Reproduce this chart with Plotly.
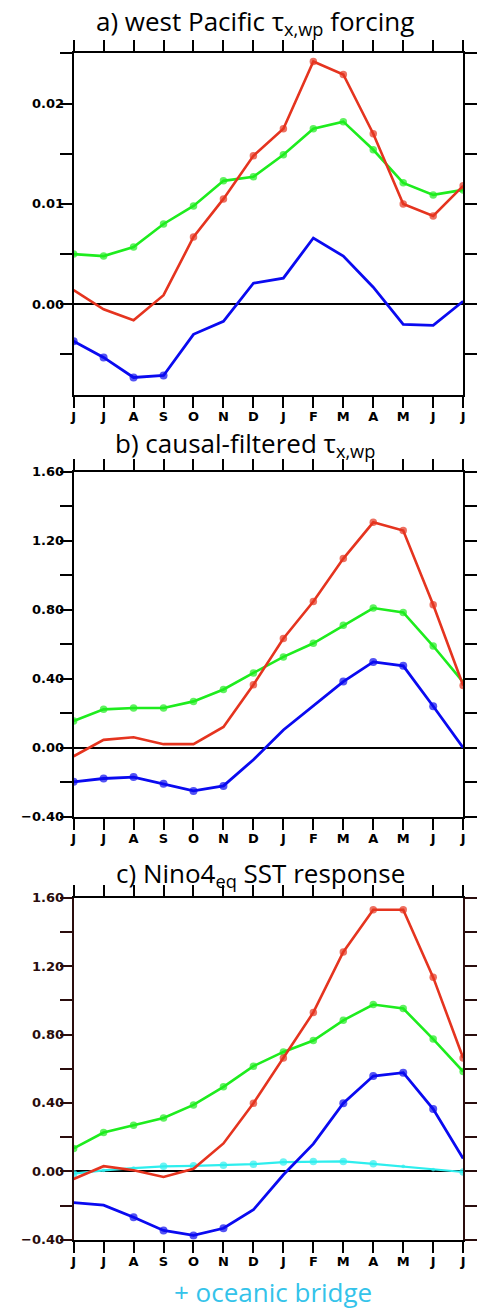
import plotly.graph_objects as go

months = ["J", "J", "A", "S", "O", "N", "D", "J", "F", "M", "A", "M", "J", "J"]
xpos = list(range(len(months)))

# a) west Pacific tau_x forcing
a_red = [0.0014, -0.0005, -0.0016, 0.0009, 0.0067, 0.0105, 0.0148, 0.0175, 0.0242, 0.0229, 0.0170, 0.0100, 0.0088, 0.0118]
a_green = [0.0050, 0.0048, 0.0057, 0.0080, 0.0098, 0.0123, 0.0127, 0.0149, 0.0175, 0.0182, 0.0154, 0.0121, 0.0109, 0.0114]
a_blue = [-0.0037, -0.0053, -0.0073, -0.0071, -0.0030, -0.0017, 0.0021, 0.0026, 0.0066, 0.0048, 0.0017, -0.0020, -0.0021, 0.0003]
a_red_sig = [0, 0, 0, 0, 1, 1, 1, 1, 1, 1, 1, 1, 1, 1]
a_green_sig = [1, 1, 1, 1, 1, 1, 1, 1, 1, 1, 1, 1, 1, 1]
a_blue_sig = [1, 1, 1, 1, 0, 0, 0, 0, 0, 0, 0, 0, 0, 0]

# b) causal-filtered tau_x
b_red = [-0.05, 0.045, 0.06, 0.02, 0.02, 0.12, 0.364, 0.633, 0.847, 1.096, 1.306, 1.258, 0.828, 0.36]
b_green = [0.154, 0.222, 0.23, 0.23, 0.268, 0.337, 0.433, 0.526, 0.605, 0.709, 0.809, 0.784, 0.589, 0.38]
b_blue = [-0.198, -0.179, -0.171, -0.209, -0.251, -0.222, -0.07, 0.102, 0.245, 0.383, 0.497, 0.474, 0.24, 0.0]
b_red_sig = [0, 0, 0, 0, 0, 0, 1, 1, 1, 1, 1, 1, 1, 1]
b_green_sig = [1, 1, 1, 1, 1, 1, 1, 1, 1, 1, 1, 1, 1, 0]
b_blue_sig = [1, 1, 1, 1, 1, 1, 0, 0, 0, 1, 1, 1, 1, 0]

# c) Nino4 SST response
c_red = [-0.045, 0.03, 0.006, -0.033, 0.015, 0.163, 0.398, 0.663, 0.929, 1.283, 1.529, 1.529, 1.134, 0.663]
c_green = [0.134, 0.227, 0.269, 0.312, 0.388, 0.494, 0.615, 0.698, 0.765, 0.883, 0.975, 0.952, 0.773, 0.583]
c_blue = [-0.183, -0.198, -0.269, -0.346, -0.375, -0.333, -0.225, -0.02, 0.16, 0.398, 0.557, 0.577, 0.364, 0.075]
c_cyan = [-0.014, 0.006, 0.019, 0.029, 0.032, 0.036, 0.042, 0.054, 0.058, 0.058, 0.044, 0.029, 0.01, -0.004]
c_red_sig = [0, 0, 0, 0, 0, 0, 1, 1, 1, 1, 1, 1, 1, 1]
c_green_sig = [1, 1, 1, 1, 1, 1, 1, 1, 1, 1, 1, 1, 1, 1]
c_blue_sig = [0, 0, 1, 1, 1, 1, 0, 0, 0, 1, 1, 1, 1, 0]
c_cyan_sig = [1, 0.5, 0.5, 1, 1, 1, 1, 1, 1, 1, 1, 0.5, 0.5, 1]

RED = "#e5341f"
GREEN = "#1eec1e"
BLUE = "#0a0af0"
CYAN = "#2eeeee"

W, H = 477, 1310


def sizes(sig, base):
    return [base * s for s in sig]


def series(y, sig, color, axis, base=7.5, width=2.6):
    return go.Scatter(
        x=xpos, y=y, mode="lines+markers",
        line=dict(color=color, width=width),
        marker=dict(color=color, size=sizes(sig, base), line=dict(width=0)),
        xaxis="x" + axis, yaxis="y" + axis, showlegend=False, hoverinfo="skip",
    )


fig = go.Figure()
fig.add_trace(series(a_green, a_green_sig, GREEN, ""))
fig.add_trace(series(a_blue, a_blue_sig, BLUE, "", base=8, width=2.8))
fig.add_trace(series(a_red, a_red_sig, RED, ""))

fig.add_trace(series(b_green, b_green_sig, GREEN, "2"))
fig.add_trace(series(b_blue, b_blue_sig, BLUE, "2", base=8, width=2.8))
fig.add_trace(series(b_red, b_red_sig, RED, "2"))

fig.add_trace(series(c_cyan, c_cyan_sig, CYAN, "3", width=2.2))
fig.add_trace(series(c_green, c_green_sig, GREEN, "3"))
fig.add_trace(series(c_blue, c_blue_sig, BLUE, "3", base=8, width=2.8))
fig.add_trace(series(c_red, c_red_sig, RED, "3"))

xdom = [72 / W, 469 / W]


def ydom(top, bottom):
    return [1 - bottom / H, 1 - top / H]


tickfont = dict(family="DejaVu Sans", size=13, color="black")


def xaxis_cfg(anchor):
    return dict(
        domain=xdom, anchor=anchor, range=[0, 13],
        tickmode="array", tickvals=xpos, ticktext=[f"<b>{m}</b>" for m in months],
        ticks="outside", ticklen=11, tickwidth=2, tickcolor="black",
        showline=True, linecolor="black", linewidth=2, mirror="ticks",
        showgrid=False, zeroline=False, tickfont=tickfont,
        ticklabelstandoff=-2, fixedrange=True,
    )


def yaxis_cfg(anchor, dom, rng, dtick, fmt, color="black"):
    return dict(
        domain=dom, anchor=anchor, range=rng,
        tickmode="linear", tick0=0, dtick=dtick, tickformat=fmt,
        ticks="outside", ticklen=12, tickwidth=2, tickcolor=color,
        minor=dict(dtick=dtick / 2, tick0=0, ticks="outside", ticklen=12, tickwidth=2, tickcolor=color),
        showline=True, linecolor=color, linewidth=2, mirror="ticks",
        showgrid=False, zeroline=True, zerolinecolor="black", zerolinewidth=1.8,
        tickfont=dict(family="DejaVu Sans", size=13, color=color, weight="bold"),
        ticklabelstandoff=-7,
        fixedrange=True,
    )


fig.update_layout(
    width=W, height=H,
    margin=dict(l=0, r=0, t=0, b=0),
    paper_bgcolor="white", plot_bgcolor="white",
    xaxis=xaxis_cfg("y"),
    yaxis=yaxis_cfg("x", ydom(47, 392), [-0.009, 0.025], 0.01, ".2f"),
    xaxis2=xaxis_cfg("y2"),
    yaxis2=yaxis_cfg("x2", ydom(470, 819), [-0.4, 1.6], 0.4, ".2f"),
    xaxis3=xaxis_cfg("y3"),
    yaxis3=yaxis_cfg("x3", ydom(901, 1247), [-0.4, 1.6], 0.4, ".2f", color="#2a0d0d"),
)

# panel titles, placed by the top edge of their text box
titlefont = dict(family="Open Sans", size=26, color="black")
titles = [
    ("a) west Pacific τ<sub>x,wp</sub> forcing", 93, -6),
    ("b) causal-filtered τ<sub>x,wp</sub>", 112, 421),
    ("c) Nino4<sub>eq</sub> SST response", 113, 856),
]
for text, x0, ytop in titles:
    fig.add_annotation(
        text=text, xref="paper", yref="paper", x=x0 / W, y=1 - ytop / H,
        xanchor="left", yanchor="top", showarrow=False, font=titlefont,
    )

fig.add_annotation(
    text="+ oceanic bridge", xref="paper", yref="paper", x=172 / W, y=1 - 1280 / H,
    xanchor="left", yanchor="top", showarrow=False,
    font=dict(family="Open Sans", size=26, color="#34c3ea"),
)

fig.write_html("out.html")
